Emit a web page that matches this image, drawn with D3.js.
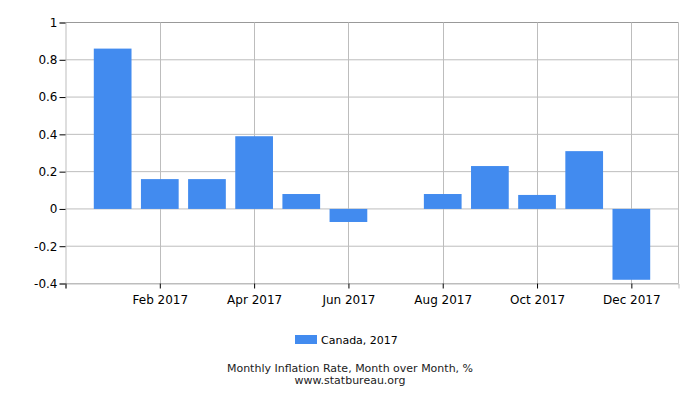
<!DOCTYPE html>
<html><head><meta charset="utf-8">
<script src="https://cdn.jsdelivr.net/npm/d3@7"></script>
<style>body{margin:0;background:#fff;} text{font-family:"DejaVu Sans",sans-serif;}</style>
</head><body>
<svg id="c" width="700" height="400"></svg>
<script>
const months = ["Jan","Feb","Mar","Apr","May","Jun","Jul","Aug","Sep","Oct","Nov","Dec"];
const values = [0.86, 0.16, 0.16, 0.39, 0.08, -0.07, 0, 0.08, 0.23, 0.075, 0.31, -0.38];
const yTicks = [-0.4, -0.2, 0, 0.2, 0.4, 0.6, 0.8, 1];
const xTickIdx = [1, 3, 5, 7, 9, 11];
const year = "2017";
const seriesName = "Canada, 2017";
const title = "Monthly Inflation Rate, Month over Month, %";
const source = "www.statbureau.org";

const svg = d3.select("#c");
const L = 65.5, R = 678.5, T = 22.5, B = 283.5;
const x = d3.scaleLinear().domain([-1, 12]).range([L, R]);
const y = d3.scaleLinear().domain([-0.4, 1]).range([B, T]);
const bw = (x(1) - x(0)) * 0.8;

// grid
svg.append("g").selectAll("line").data(yTicks).join("line")
  .attr("x1", L).attr("x2", R).attr("y1", d => y(d)).attr("y2", d => y(d))
  .attr("stroke", d => d === 1 ? "#999" : "#bdbdbd").attr("stroke-width", 1);
svg.append("g").selectAll("line").data(xTickIdx).join("line")
  .attr("x1", d => Math.round(x(d)) + 0.5).attr("x2", d => Math.round(x(d)) + 0.5).attr("y1", T).attr("y2", B)
  .attr("stroke", "#bdbdbd");
svg.append("line").attr("x1", R).attr("x2", R).attr("y1", T).attr("y2", B).attr("stroke", "#bdbdbd");

// bars
svg.append("g").selectAll("rect").data(values).join("rect")
  .attr("x", (d, i) => x(i) - bw / 2)
  .attr("width", bw)
  .attr("y", d => y(Math.max(0, d)))
  .attr("height", d => Math.abs(y(d) - y(0)))
  .attr("fill", "#428bef");

// y axis
const ya = svg.append("g").attr("transform", `translate(${L},0)`)
  .call(d3.axisLeft(y).tickValues(yTicks).tickSize(6).tickPadding(2).tickFormat(d => String(+d.toFixed(1))));
ya.select(".domain").attr("stroke", "#bdbdbd");
ya.selectAll(".tick line").attr("stroke", "#000");
ya.selectAll("text").attr("font-size", 12).attr("fill", "#000").attr("font-family", "DejaVu Sans");

// x axis
const xa = svg.append("g").attr("transform", `translate(0,${B})`)
  .call(d3.axisBottom(x).tickValues([-1].concat(xTickIdx)).tickSize(5).tickPadding(7)
    .tickFormat(d => d < 0 ? "" : months[d] + " " + year));
xa.select(".domain").attr("stroke", "#bdbdbd");
xa.selectAll(".tick line").attr("stroke", "#000");
xa.selectAll("text").attr("font-size", 12).attr("fill", "#000").attr("font-family", "DejaVu Sans");

// legend
svg.append("rect").attr("x", 295).attr("y", 335).attr("width", 22).attr("height", 9).attr("fill", "#428bef");
svg.append("text").attr("x", 321).attr("y", 344).attr("font-size", 11).attr("fill", "#000").text(seriesName);

svg.append("text").attr("x", 350).attr("y", 372).attr("text-anchor", "middle").attr("font-size", 11).attr("fill", "#222").text(title);
svg.append("text").attr("x", 350).attr("y", 384).attr("text-anchor", "middle").attr("font-size", 11).attr("fill", "#222").text(source);
</script>
</body></html>
